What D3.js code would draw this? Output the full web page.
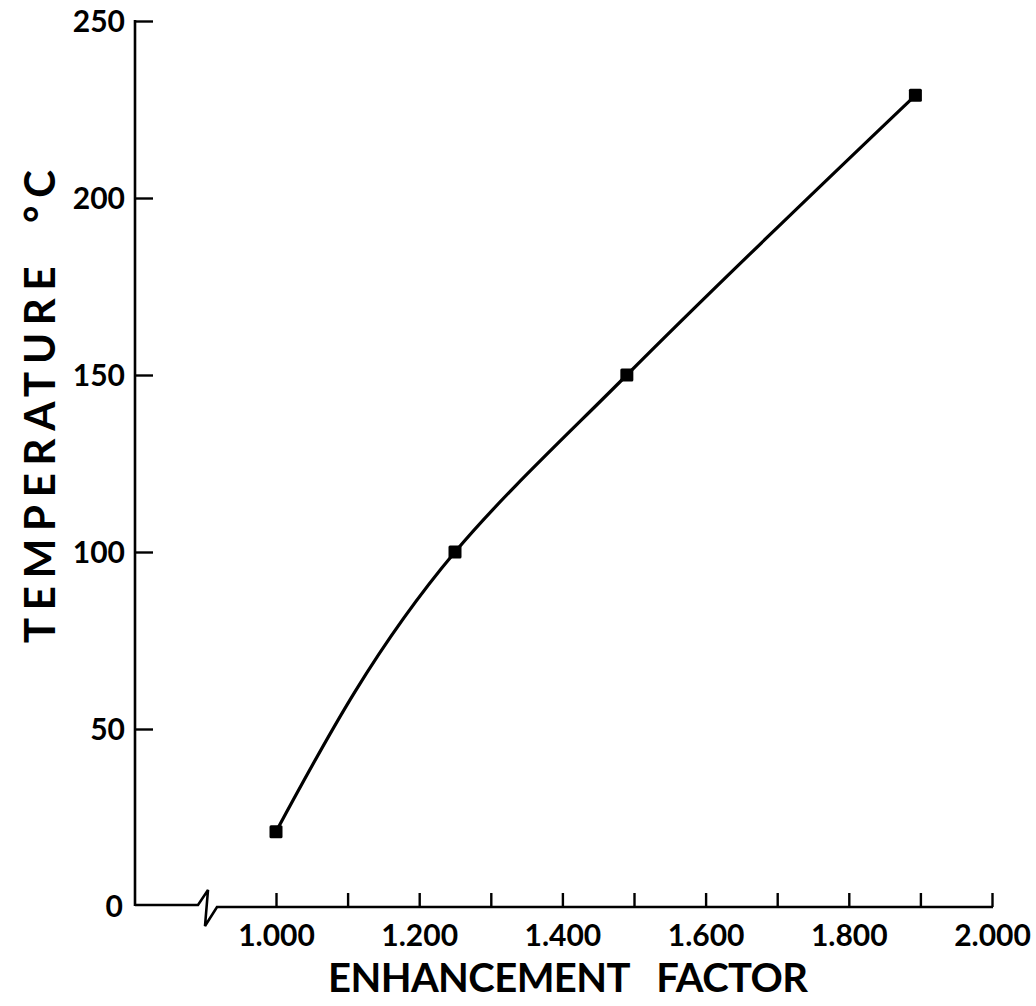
<!DOCTYPE html>
<html>
<head>
<meta charset="utf-8">
<script src="https://cdn.jsdelivr.net/npm/d3@7"></script>
<style>
  body { margin: 0; background: #fff; }
  svg { display: block; }
  text { font-family: Lato, "Open Sans", sans-serif; fill: #000; font-weight: 700; }
</style>
</head>
<body>
<svg id="chart" width="1036" height="1006"></svg>
<script>
// data
var factor = [1.000, 1.250, 1.490, 1.893];
var temperature = [21, 100, 150, 229];

var yTicks = [0, 50, 100, 150, 200, 250];
var xTicks = [1.0, 1.1, 1.2, 1.3, 1.4, 1.5, 1.6, 1.7, 1.8, 1.9, 2.0];
var xLabelTicks = [1.0, 1.2, 1.4, 1.6, 1.8, 2.0];

var xTitle = "ENHANCEMENT   FACTOR";
var yTitle = "TEMPERATURE  °C";

var axisX = 135;      // y axis position
var zeroY = 906;      // baseline
var breakEnd = 217;   // where scaled x-axis starts after the break

var svg = d3.select("#chart");

// Scales ====================================================================

var xScale = d3.scaleLinear()
	.domain([1.0, 2.0])
	.range([276, 992]);

var yScale = d3.scaleLinear()
	.domain([0, 250])
	.range([zeroY, 21]);

// Axes ======================================================================

var yAxis = d3.axisLeft(yScale)
	.tickValues(yTicks.filter(function(d) { return d > 0; }))
	.tickSize(-18)
	.tickPadding(10)
	.tickFormat(d3.format("d"));

var yg = svg.append("g")
	.attr("class", "y-axis")
	.attr("transform", "translate(" + axisX + ",0)")
	.call(yAxis);
yg.select(".domain").remove();
yg.selectAll(".tick line").attr("stroke", "#000").attr("stroke-width", 2.4);
yg.selectAll(".tick text").attr("font-size", 30).attr("dy", "0.36em");

// zero label sits left of the baseline
svg.append("text")
	.attr("x", axisX - 12)
	.attr("y", yScale(0))
	.attr("dy", "0.36em")
	.attr("text-anchor", "end")
	.attr("font-size", 30)
	.text(d3.format("d")(yTicks[0]));

svg.append("line")
	.attr("x1", axisX).attr("x2", axisX)
	.attr("y1", yScale(250) - 1).attr("y2", zeroY)
	.attr("stroke", "#000").attr("stroke-width", 2.6);

var xAxis = d3.axisBottom(xScale)
	.tickValues(xTicks)
	.tickSize(-14)
	.tickPadding(12)
	.tickFormat(function(d) {
		return xLabelTicks.some(function(v) { return Math.abs(v - d) < 1e-9; }) ? d3.format(".3f")(d) : "";
	});

var xg = svg.append("g")
	.attr("class", "x-axis")
	.attr("transform", "translate(0," + (zeroY + 1) + ")")
	.call(xAxis);
xg.select(".domain").remove();
xg.selectAll(".tick line").attr("stroke", "#000").attr("stroke-width", 2.4);
xg.selectAll(".tick text").attr("font-size", 30).attr("dy", "0.9em");

// baseline with the broken-axis zigzag
var baseLine = d3.line();
svg.append("path")
	.attr("d", baseLine([
		[axisX, zeroY - 1], [198, zeroY - 1],
		[208, zeroY - 16], [205, zeroY + 20],
		[breakEnd, zeroY + 1], [xScale(2.0) + 1, zeroY + 1]
	]))
	.attr("fill", "none")
	.attr("stroke", "#000")
	.attr("stroke-width", 2.6)
	.attr("stroke-linejoin", "miter");

// Curve and points ==========================================================

var pts = factor.map(function(f, i) { return [f, temperature[i]]; });

// the drawn curve is concave, so interpolate x as a monotone function of y
var curve = d3.line()
	.x(function(d) { return xScale(d[0]); })
	.y(function(d) { return yScale(d[1]); })
	.curve(d3.curveMonotoneY);

svg.append("path")
	.datum(pts)
	.attr("d", curve)
	.attr("fill", "none")
	.attr("stroke", "#000")
	.attr("stroke-width", 3.2);

svg.selectAll("rect.pt")
	.data(pts)
	.enter()
	.append("rect")
	.attr("class", "pt")
	.attr("x", function(d) { return xScale(d[0]) - 6.5; })
	.attr("y", function(d) { return yScale(d[1]) - 6.5; })
	.attr("width", 13)
	.attr("height", 13)
	.attr("rx", 1.5)
	.attr("fill", "#000");

// Titles ====================================================================

svg.append("text")
	.attr("x", 328)
	.attr("y", 992)
	.attr("font-size", 40)
	.attr("textLength", 480)
	.attr("lengthAdjust", "spacing")
	.style("white-space", "pre")
	.text(xTitle);

svg.append("text")
	.attr("transform", "translate(55,643) rotate(-90)")
	.attr("x", 0)
	.attr("y", 0)
	.attr("font-size", 42)
	.attr("textLength", 473)
	.attr("lengthAdjust", "spacing")
	.style("white-space", "pre")
	.text(yTitle);
</script>
</body>
</html>
